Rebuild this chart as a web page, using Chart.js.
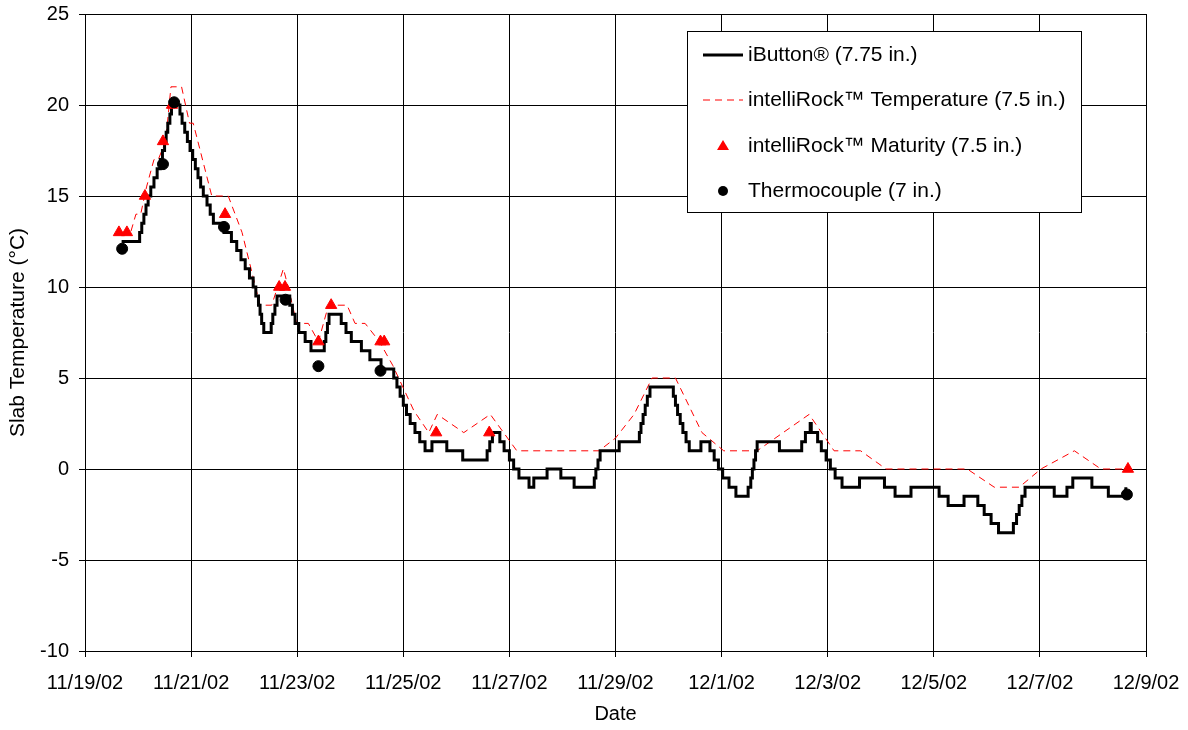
<!DOCTYPE html>
<html>
<head>
<meta charset="utf-8">
<script src="https://cdn.jsdelivr.net/npm/chart.js@4/dist/chart.umd.min.js"></script>
<style>
  body { margin: 0; background: #fff; }
  canvas { display: block; }
</style>
</head>
<body>
<canvas id="chart" width="1188" height="730"></canvas>
<script>
// x values are days after 11/19/02
const xTickLabels = ['11/19/02', '11/21/02', '11/23/02', '11/25/02', '11/27/02', '11/29/02',
  '12/1/02', '12/3/02', '12/5/02', '12/7/02', '12/9/02'];

// iButton: each point is where a new 0.5 degree level starts
const ibDay = [0.69, 1.03, 1.07, 1.11, 1.15, 1.19, 1.24, 1.30, 1.36, 1.42, 1.46, 1.50, 1.53, 1.56, 1.60, 1.63,
  1.79, 1.83, 1.88, 1.93, 1.98, 2.03, 2.08, 2.13, 2.18, 2.23, 2.30, 2.36, 2.42, 2.62, 2.76, 2.86, 2.94,
  3.02, 3.10, 3.17, 3.22, 3.27, 3.30, 3.33, 3.37, 3.51, 3.54, 3.58, 3.62, 3.86, 3.91, 3.96, 4.03, 4.15,
  4.26, 4.51, 4.54, 4.57, 4.60, 4.83, 4.92, 5.02, 5.21, 5.37, 5.58, 5.82, 5.88, 5.94, 6.00, 6.06, 6.13,
  6.22, 6.31, 6.41, 6.54, 6.82, 7.12, 7.58, 7.63, 7.68, 7.82, 7.90, 8.00, 8.08, 8.18, 8.37, 8.46, 8.71,
  8.97, 9.22, 9.60, 9.63, 9.67, 9.71, 10.07, 10.45, 10.48, 10.52, 10.56, 10.60, 10.65, 11.09, 11.13,
  11.17, 11.22, 11.27, 11.33, 11.39, 11.61, 11.78, 11.86, 11.94, 12.02, 12.14, 12.27, 12.50, 12.55,
  12.58, 12.61, 12.64, 12.67, 13.09, 13.51, 13.58, 13.67, 13.69, 13.81, 13.88, 13.97, 14.05, 14.14,
  14.27, 14.60, 15.07, 15.27, 15.57, 16.10, 16.27, 16.57, 16.83, 16.95, 17.08, 17.22, 17.50, 17.56,
  17.61, 17.66, 17.72, 18.27, 18.51, 18.62, 18.98, 19.29, 19.62];
const ibTemp = [12.5, 13, 13.5, 14, 14.5, 15, 15.5, 16, 16.5, 17, 17.5, 18, 18.5, 19, 19.5, 20,
  19.5, 19, 18.5, 18, 17.5, 17, 16.5, 16, 15.5, 15, 14.5, 14, 13.5, 13, 12.5, 12, 11.5,
  11, 10.5, 10, 9.5, 9, 8.5, 8, 7.5, 8, 8.5, 9, 9.5, 9, 8.5, 8, 7.5, 7,
  6.5, 7, 7.5, 8, 8.5, 8, 7.5, 7, 6.5, 6, 5.5, 5, 4.5, 4, 3.5, 3, 2.5,
  2, 1.5, 1, 1.5, 1, 0.5, 1, 1.5, 2, 1.5, 1, 0.5, 0, -0.5, -1, -0.5, 0,
  -0.5, -1, -0.5, 0, 0.5, 1, 1.5, 2, 2.5, 3, 3.5, 4, 4.5, 4, 3.5,
  3, 2.5, 2, 1.5, 1, 1.5, 1, 0.5, 0, -0.5, -1, -1.5, -1, -0.5,
  0, 0.5, 1, 1.5, 1, 1.5, 2, 2.5, 2, 1.5, 1, 0.5, 0, -0.5,
  -1, -0.5, -1, -1.5, -1, -1.5, -2, -1.5, -2, -2.5, -3, -3.5, -3, -2.5,
  -2, -1.5, -1, -1.5, -1, -0.5, -1, -1.5, -1];

// intelliRock temperature (dashed)
const irDay = [0.66, 0.86, 0.96, 1.05, 1.16, 1.30, 1.38, 1.52, 1.62, 1.82, 1.97, 2.04, 2.39, 2.70, 2.96,
  3.30, 3.52, 3.74, 3.83, 3.99, 4.21, 4.40, 4.59, 4.94, 5.09, 5.28, 5.55, 5.80, 6.04, 6.20, 6.48, 6.64,
  7.14, 7.64, 8.14, 9.69, 10.00, 10.35, 10.69, 11.13, 11.63, 12.04, 12.67, 13.65, 14.12, 14.62, 15.10,
  16.63, 17.14, 17.61, 18.02, 18.65, 19.15, 19.62];
const irTemp = [13, 13, 14, 14, 15.5, 17, 17, 18, 21, 21, 19, 19, 15, 15, 13,
  9, 9, 11, 10, 8, 8, 7, 9, 9, 8, 8, 7, 5.7, 4.2, 3.2, 2, 3,
  2, 3, 1, 1, 1.7, 3, 5, 5, 2, 1, 1, 3, 1, 1, 0,
  0, -1, -1, 0, 1, 0, 0];

// intelliRock maturity readings (triangles)
const matDay = [0.64, 0.79, 1.13, 1.47, 1.64, 2.64, 3.66, 3.77, 4.40, 4.64, 5.57, 5.64, 6.62, 7.62, 19.66];
const matTemp = [13, 13, 15, 18, 20, 14, 10, 10, 7, 9, 7, 7, 2, 2, 0];

// thermocouple readings (dots)
const tcDay = [0.70, 1.47, 1.68, 2.62, 3.78, 4.40, 5.57, 19.64];
const tcTemp = [12.1, 16.75, 20.15, 13.3, 9.3, 5.65, 5.4, -1.4];

const toPoints = (xs, ys) => xs.map((x, i) => ({ x: x, y: ys[i] }));

const FONT = '"Liberation Sans", Arial, sans-serif';

// legend drawn inside the plot, like the original
const legendBox = {
  id: 'legendBox',
  afterDraw(chart) {
    const ctx = chart.ctx;
    const left = 687, top = 31, w = 394, h = 181;
    const rows = [55, 100, 146, 191];
    ctx.save();
    ctx.fillStyle = '#fff';
    ctx.fillRect(left, top, w, h);
    ctx.strokeStyle = '#000';
    ctx.lineWidth = 1;
    ctx.strokeRect(left + 0.5, top + 0.5, w, h);

    chart.data.datasets.forEach((ds, i) => {
      const y = rows[i];
      ctx.save();
      if (ds.showLine) {
        ctx.strokeStyle = ds.borderColor;
        ctx.lineWidth = ds.borderWidth;
        ctx.setLineDash(ds.borderDash || []);
        ctx.beginPath();
        ctx.moveTo(703, y);
        ctx.lineTo(743, y);
        ctx.stroke();
      } else if (ds.pointStyle === 'triangle') {
        ctx.fillStyle = ds.backgroundColor;
        ctx.beginPath();
        ctx.moveTo(723, y - 6);
        ctx.lineTo(729, y + 4);
        ctx.lineTo(717, y + 4);
        ctx.closePath();
        ctx.fill();
      } else {
        ctx.fillStyle = ds.backgroundColor;
        ctx.beginPath();
        ctx.arc(723, y, 5, 0, Math.PI * 2);
        ctx.fill();
      }
      ctx.restore();
      ctx.fillStyle = '#000';
      ctx.font = '21px ' + FONT;
      ctx.textBaseline = 'middle';
      ctx.fillText(ds.label, 748, y);
    });
    ctx.restore();
  }
};

new Chart(document.getElementById('chart'), {
  type: 'scatter',
  data: {
    datasets: [
      {
        label: 'iButton® (7.75 in.)',
        data: toPoints(ibDay, ibTemp),
        showLine: true,
        stepped: true,
        borderColor: '#000',
        borderWidth: 3,
        pointRadius: 0,
        order: 2
      },
      {
        label: 'intelliRock™ Temperature (7.5 in.)',
        data: toPoints(irDay, irTemp),
        showLine: true,
        borderColor: '#ff0000',
        borderWidth: 1,
        borderDash: [7, 5],
        pointRadius: 0,
        order: 3
      },
      {
        label: 'intelliRock™ Maturity (7.5 in.)',
        data: toPoints(matDay, matTemp),
        pointStyle: 'triangle',
        pointRadius: 6.5,
        backgroundColor: '#ff0000',
        borderColor: '#ff0000',
        borderWidth: 1,
        order: 1
      },
      {
        label: 'Thermocouple (7 in.)',
        data: toPoints(tcDay, tcTemp),
        pointStyle: 'circle',
        pointRadius: 5.5,
        backgroundColor: '#000',
        borderColor: '#000',
        borderWidth: 1,
        order: 0
      }
    ]
  },
  options: {
    responsive: false,
    animation: false,
    devicePixelRatio: 1,
    layout: { padding: { top: 14, right: 42, left: 0, bottom: 0 } },
    plugins: {
      legend: { display: false },
      tooltip: { enabled: false }
    },
    scales: {
      x: {
        type: 'linear',
        min: 0,
        max: 20,
        afterFit: scale => {
          scale.height = 79;
          scale.paddingLeft = 0;
          scale.paddingRight = 0;
        },
        ticks: {
          stepSize: 2,
          color: '#000',
          padding: 14,
          maxRotation: 0,
          font: { family: FONT, size: 20 },
          callback: value => xTickLabels[value / 2]
        },
        grid: { color: '#000', lineWidth: 1, tickLength: 6 },
        border: { color: '#000', width: 1 },
        title: {
          display: true,
          text: 'Date',
          color: '#000',
          font: { family: FONT, size: 20 },
          padding: { top: 4, bottom: 4 }
        }
      },
      y: {
        min: -10,
        max: 25,
        afterFit: scale => {
          scale.width = 85;
          scale.paddingTop = 0;
          scale.paddingBottom = 0;
        },
        ticks: {
          stepSize: 5,
          color: '#000',
          padding: 10,
          font: { family: FONT, size: 20 }
        },
        grid: { color: '#000', lineWidth: 1, tickLength: 6 },
        border: { color: '#000', width: 1 },
        title: {
          display: true,
          text: 'Slab Temperature (°C)',
          color: '#000',
          font: { family: FONT, size: 21 },
          padding: { top: 6, bottom: 4 }
        }
      }
    }
  },
  plugins: [legendBox]
});
</script>
</body>
</html>
